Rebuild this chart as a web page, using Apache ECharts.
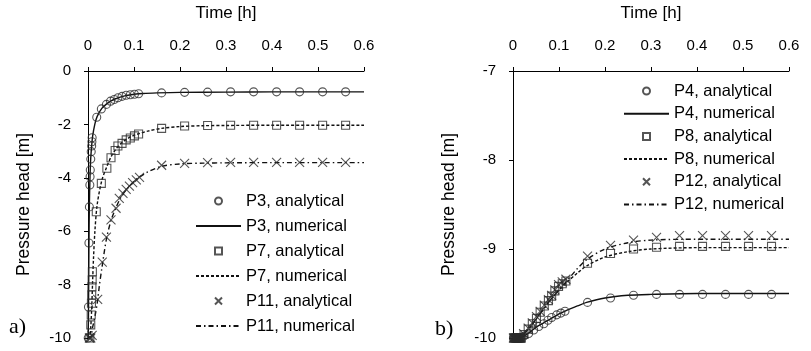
<!DOCTYPE html>
<html>
<head>
<meta charset="utf-8">
<script src="https://cdn.jsdelivr.net/npm/echarts@6/dist/echarts.min.js"></script>
<style>html,body{margin:0;padding:0;background:#fff}#c{width:811px;height:351px}</style>
</head>
<body>
<div id="c"></div>
<script>
// ---- Panel a) ----
const tP3a = [0.0005,0.001,0.002,0.003,0.004,0.0045,0.005,0.006,0.007,0.008,0.0085,0.009,0.019,0.029,0.040,0.049,0.057,0.065,0.074,0.083,0.092,0.101,0.110,0.16,0.21,0.26,0.31,0.36,0.41,0.46,0.51,0.56];
const hP3a = [-10,-8.84,-6.44,-5.09,-4.27,-3.96,-3.71,-3.30,-3.02,-2.81,-2.65,-2.50,-1.73,-1.42,-1.25,-1.13,-1.07,-1.00,-0.95,-0.91,-0.89,-0.87,-0.85,-0.82,-0.80,-0.79,-0.78,-0.78,-0.78,-0.78,-0.78,-0.78];
const tP3n = [0,0.001,0.002,0.003,0.004,0.005,0.006,0.008,0.01,0.015,0.02,0.03,0.04,0.05,0.06,0.07,0.08,0.09,0.1,0.12,0.15,0.2,0.3,0.4,0.6];
const hP3n = [-10,-9.2,-6.6,-5.0,-4.2,-3.6,-3.25,-2.8,-2.45,-1.98,-1.70,-1.40,-1.24,-1.12,-1.04,-0.98,-0.93,-0.90,-0.87,-0.84,-0.82,-0.80,-0.79,-0.78,-0.78];
const tP7a = [0.004,0.006,0.007,0.0075,0.008,0.0085,0.009,0.0095,0.018,0.029,0.041,0.050,0.059,0.065,0.074,0.083,0.092,0.101,0.110,0.16,0.21,0.26,0.31,0.36,0.41,0.46,0.51,0.56];
const hP7a = [-10,-9.51,-9.14,-8.70,-8.39,-8.08,-7.83,-7.52,-5.27,-4.21,-3.64,-3.25,-2.98,-2.81,-2.71,-2.58,-2.51,-2.43,-2.36,-2.15,-2.06,-2.04,-2.03,-2.03,-2.03,-2.03,-2.03,-2.03];
const tP7n = [0,0.004,0.006,0.008,0.01,0.012,0.015,0.02,0.03,0.04,0.05,0.06,0.07,0.08,0.09,0.1,0.11,0.13,0.16,0.2,0.25,0.3,0.4,0.6];
const hP7n = [-10,-9.95,-9.6,-8.9,-7.9,-7.0,-6.0,-5.0,-4.1,-3.62,-3.22,-2.94,-2.74,-2.60,-2.49,-2.41,-2.35,-2.25,-2.15,-2.08,-2.05,-2.04,-2.03,-2.03];
const tP11a = [0.003,0.006,0.009,0.021,0.031,0.040,0.050,0.061,0.068,0.076,0.083,0.090,0.097,0.105,0.112,0.16,0.21,0.26,0.31,0.36,0.41,0.46,0.51,0.56];
const hP11a = [-10,-10,-9.9,-8.55,-7.16,-6.22,-5.58,-5.14,-4.77,-4.58,-4.43,-4.31,-4.18,-4.08,-3.98,-3.53,-3.46,-3.43,-3.42,-3.42,-3.42,-3.42,-3.42,-3.42];
const tP11n = [0,0.005,0.01,0.015,0.02,0.025,0.03,0.04,0.05,0.06,0.07,0.08,0.09,0.1,0.11,0.13,0.16,0.2,0.25,0.3,0.4,0.6];
const hP11n = [-10,-10,-9.6,-9.2,-8.7,-8.0,-7.4,-6.3,-5.6,-5.15,-4.78,-4.52,-4.32,-4.14,-4.0,-3.78,-3.57,-3.48,-3.45,-3.44,-3.43,-3.43];
// ---- Panel b) ----
const tP4a = [0.001,0.003,0.005,0.007,0.009,0.011,0.013,0.015,0.017,0.023,0.034,0.045,0.056,0.067,0.076,0.084,0.095,0.104,0.113,0.162,0.212,0.262,0.312,0.362,0.412,0.462,0.512,0.562];
const hP4a = [-10,-10,-10,-10,-10,-10,-10,-10,-10,-9.98,-9.95,-9.91,-9.87,-9.84,-9.80,-9.77,-9.74,-9.72,-9.70,-9.60,-9.55,-9.52,-9.51,-9.51,-9.51,-9.51,-9.51,-9.51];
const tP4n = [0,0.01,0.02,0.03,0.04,0.05,0.06,0.07,0.08,0.09,0.1,0.12,0.14,0.16,0.2,0.25,0.3,0.4,0.6];
const hP4n = [-10,-10,-9.99,-9.96,-9.92,-9.88,-9.85,-9.82,-9.79,-9.76,-9.73,-9.68,-9.64,-9.60,-9.55,-9.52,-9.51,-9.5,-9.5];
const tP8a = [0.002,0.004,0.006,0.008,0.010,0.012,0.014,0.016,0.018,0.024,0.033,0.042,0.051,0.059,0.068,0.077,0.084,0.091,0.099,0.107,0.115,0.162,0.212,0.262,0.312,0.362,0.412,0.462,0.512,0.562];
const hP8a = [-10,-10,-10,-10,-10,-10,-10,-10,-10,-9.96,-9.90,-9.84,-9.78,-9.71,-9.64,-9.58,-9.53,-9.47,-9.42,-9.39,-9.36,-9.16,-9.05,-9.00,-8.98,-8.97,-8.97,-8.97,-8.97,-8.97];
const tP8n = [0,0.01,0.02,0.03,0.04,0.05,0.06,0.07,0.08,0.09,0.1,0.11,0.12,0.14,0.16,0.2,0.25,0.3,0.4,0.6];
const hP8n = [-10,-10,-9.97,-9.92,-9.86,-9.79,-9.72,-9.65,-9.58,-9.52,-9.46,-9.41,-9.36,-9.27,-9.19,-9.09,-9.03,-9.0,-8.985,-8.985];
const tP12a = [0.001,0.003,0.005,0.007,0.009,0.011,0.013,0.015,0.017,0.023,0.033,0.042,0.051,0.059,0.068,0.077,0.084,0.091,0.099,0.107,0.115,0.162,0.212,0.262,0.312,0.362,0.412,0.462,0.512,0.562];
const hP12a = [-10,-10,-10,-10,-10,-10,-10,-10,-10,-9.95,-9.89,-9.83,-9.76,-9.70,-9.63,-9.57,-9.52,-9.46,-9.40,-9.37,-9.34,-9.08,-8.96,-8.90,-8.87,-8.85,-8.85,-8.85,-8.85,-8.85];
const tP12n = [0,0.01,0.02,0.03,0.04,0.05,0.06,0.07,0.08,0.09,0.1,0.11,0.12,0.14,0.16,0.2,0.25,0.3,0.4,0.6];
const hP12n = [-10,-10,-9.97,-9.92,-9.86,-9.79,-9.72,-9.65,-9.58,-9.52,-9.46,-9.40,-9.34,-9.22,-9.12,-9.0,-8.93,-8.90,-8.89,-8.89];

const xTicks = ['0','0.1','0.2','0.3','0.4','0.5','0.6'];
const namesA = ['P3, analytical','P3, numerical','P7, analytical','P7, numerical','P11, analytical','P11, numerical'];
const namesB = ['P4, analytical','P4, numerical','P8, analytical','P8, numerical','P12, analytical','P12, numerical'];

const pairs = (t, h) => t.map((v, i) => [v, h[i]]);
const INK = '#111';
const FONT = '"Liberation Sans", Arial, sans-serif';
const CROSS = 'path://M0,0L10,10M10,0L0,10';
const SQUARE = 'path://M0,0L10,0L10,10L0,10Z';
const DASH = [3, 2];
const DASHDOT = [5, 3, 1.5, 3];
const CLEAR = 'rgba(0,0,0,0)';

function scat(name, t, h, sym, size, gi) {
  return { name, type: 'scatter', xAxisIndex: gi, yAxisIndex: gi, data: pairs(t, h),
    symbol: sym, symbolSize: size, z: 3,
    itemStyle: { color: CLEAR, borderColor: '#2a2a2a', borderWidth: 1.1 } };
}
function line(name, t, h, dash, gi) {
  return { name, type: 'line', xAxisIndex: gi, yAxisIndex: gi, data: pairs(t, h),
    symbol: 'none', smooth: 0.3, z: 2,
    lineStyle: { color: INK, width: 1.4, type: dash },
    itemStyle: { color: CLEAR, borderColor: CLEAR, borderWidth: 0 } };
}
function xAx(gi) {
  return { gridIndex: gi, type: 'value', position: 'top', min: 0, max: 0.6, interval: 0.1,
    name: 'Time [h]', nameLocation: 'middle', nameGap: 49,
    nameTextStyle: { fontFamily: FONT, fontSize: 17, color: '#000' },
    axisLine: { show: true, onZero: false, lineStyle: { color: '#000', width: 1 } },
    axisTick: { show: true, length: 4, lineStyle: { color: '#000' } },
    axisLabel: { fontFamily: FONT, fontSize: 15, color: '#000', margin: 18,
      formatter: v => xTicks[Math.round(v * 10)] },
    splitLine: { show: false } };
}
function yAx(gi, min, max, interval) {
  return { gridIndex: gi, type: 'value', min, max, interval,
    name: 'Pressure head [m]', nameLocation: 'middle', nameGap: 55,
    nameTextStyle: { fontFamily: FONT, fontSize: 17.5, color: '#000' },
    axisLine: { show: true, onZero: false, lineStyle: { color: '#000', width: 1 } },
    axisTick: { show: true, length: 4, lineStyle: { color: '#000' } },
    axisLabel: { fontFamily: FONT, fontSize: 15, color: '#000', margin: 17 },
    splitLine: { show: false } };
}
function leg(names, left, top, gap) {
  return { data: names, orient: 'vertical', left, top, itemWidth: 45, itemHeight: 7, itemGap: gap,
    selectedMode: false, textStyle: { fontFamily: FONT, fontSize: 16.5, color: '#000', lineHeight: 18 } };
}

const chart = echarts.init(document.getElementById('c'), null, { renderer: 'canvas' });
chart.setOption({
  animation: false,
  backgroundColor: '#fff',
  grid: [
    { left: 88, top: 71, width: 276, height: 267 },
    { left: 513, top: 71, width: 276, height: 267 }
  ],
  xAxis: [xAx(0), xAx(1)],
  yAxis: [yAx(0, -10, 0, 2), yAx(1, -10, -7, 1)],
  legend: [leg(namesA, 190, 187, 7), leg(namesB, 618, 77, 4.7)],
  graphic: [
    { type: 'text', left: 9, top: 316, style: { text: 'a)', font: '22px "Liberation Serif", "DejaVu Serif", serif', fill: '#000' } },
    { type: 'text', left: 435, top: 318, style: { text: 'b)', font: '22px "Liberation Serif", "DejaVu Serif", serif', fill: '#000' } }
  ],
  series: [
    scat(namesA[0], tP3a, hP3a, 'circle', 8, 0),
    line(namesA[1], tP3n, hP3n, 'solid', 0),
    scat(namesA[2], tP7a, hP7a, SQUARE, 8, 0),
    line(namesA[3], tP7n, hP7n, DASH, 0),
    scat(namesA[4], tP11a, hP11a, CROSS, 9, 0),
    line(namesA[5], tP11n, hP11n, DASHDOT, 0),
    scat(namesB[0], tP4a, hP4a, 'circle', 8, 1),
    line(namesB[1], tP4n, hP4n, 'solid', 1),
    scat(namesB[2], tP8a, hP8a, SQUARE, 8, 1),
    line(namesB[3], tP8n, hP8n, DASH, 1),
    scat(namesB[4], tP12a, hP12a, CROSS, 9, 1),
    line(namesB[5], tP12n, hP12n, DASHDOT, 1)
  ]
});
</script>
</body>
</html>
